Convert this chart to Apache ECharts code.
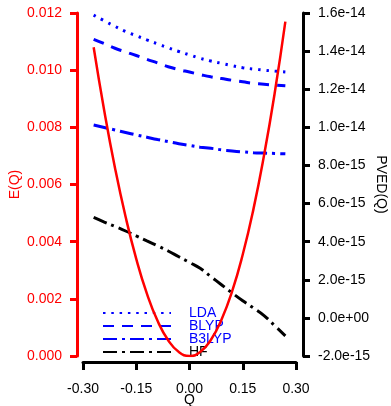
<!DOCTYPE html>
<html>
<head>
<meta charset="utf-8">
<script src="https://cdn.jsdelivr.net/npm/echarts@6/dist/echarts.min.js"></script>
<style>html,body{margin:0;padding:0;background:#fff;}#c{width:391px;height:406px;}</style>
</head>
<body>
<div id="c"></div>
<script>
var qValues = [-0.27,-0.24,-0.21,-0.18,-0.15,-0.12,-0.09,-0.06,-0.03,0,0.03,0.06,0.09,0.12,0.15,0.18,0.21,0.24,0.27];
var energy = [0.01080,0.00857,0.00659,0.00487,0.00340,0.00218,0.00123,0.00055,0.00014,0,0.00014,0.00056,0.00127,0.00226,0.00355,0.00513,0.00702,0.00920,0.01170];
var pvedLDA = [15.89e-15,15.59e-15,15.30e-15,15.03e-15,14.81e-15,14.59e-15,14.38e-15,14.17e-15,13.98e-15,13.80e-15,13.62e-15,13.48e-15,13.36e-15,13.24e-15,13.13e-15,13.06e-15,13.00e-15,12.95e-15,12.90e-15];
var pvedBLYP = [14.62e-15,14.39e-15,14.15e-15,13.96e-15,13.77e-15,13.57e-15,13.38e-15,13.18e-15,13.03e-15,12.90e-15,12.77e-15,12.65e-15,12.56e-15,12.47e-15,12.39e-15,12.31e-15,12.26e-15,12.22e-15,12.18e-15];
var pvedB3LYP = [10.12e-15,9.99e-15,9.86e-15,9.73e-15,9.60e-15,9.48e-15,9.36e-15,9.25e-15,9.14e-15,9.05e-15,8.96e-15,8.90e-15,8.82e-15,8.76e-15,8.71e-15,8.67e-15,8.65e-15,8.63e-15,8.61e-15];
var pvedHF = [5.27e-15,5.03e-15,4.80e-15,4.56e-15,4.30e-15,4.04e-15,3.78e-15,3.51e-15,3.21e-15,2.91e-15,2.60e-15,2.17e-15,1.74e-15,1.31e-15,0.90e-15,0.52e-15,0.12e-15,-0.41e-15,-0.94e-15];
var seriesNames = ['LDA','BLYP','B3LYP','HF'];

function pairs(ys){ return qValues.map(function(q,i){ return [q, ys[i]]; }); }
var FONT = 'Liberation Sans, Arial, Helvetica, sans-serif';
var chart = echarts.init(document.getElementById('c'), null, {renderer:'canvas'});
var dashDot = [14,5,3,5];
chart.setOption({
  animation:false,
  textStyle:{fontFamily:FONT},
  grid:{left:83,right:95,top:13,bottom:50,containLabel:false,outerBoundsMode:'none'},
  legend:{
    orient:'vertical', left:102, top:306, padding:0, itemWidth:68, itemHeight:10, itemGap:-1,
    itemStyle:{opacity:0},
    textStyle:{fontFamily:FONT,fontSize:14,lineHeight:12,padding:[0,0,0,13]},
    data:[
      {name:'LDA',textStyle:{color:'#0000ff'}},
      {name:'BLYP',textStyle:{color:'#0000ff'}},
      {name:'B3LYP',textStyle:{color:'#0000ff'}},
      {name:'HF',textStyle:{color:'#000000'}}
    ]
  },
  xAxis:{
    type:'value', min:-0.3, max:0.3, interval:0.15, offset:6,
    name:'Q', nameLocation:'middle', nameGap:31, nameMoveOverlap:false,
    nameTextStyle:{fontFamily:FONT,fontSize:14,color:'#000'},
    axisLine:{onZero:false,lineStyle:{color:'#000',width:3}},
    axisTick:{length:8,lineStyle:{width:3,color:'#000'}},
    axisLabel:{fontFamily:FONT,fontSize:14,color:'#000',margin:20,formatter:function(v){return (Math.abs(v)<1e-9?0:v).toFixed(2);}},
    splitLine:{show:false}
  },
  yAxis:[
    {
      type:'value', min:0, max:0.012, interval:0.002, position:'left', offset:6,
      name:'E(Q)', nameLocation:'middle', nameGap:55, nameRotate:90, nameMoveOverlap:false,
      nameTextStyle:{fontFamily:FONT,fontSize:14,color:'#ff0000'},
      axisLine:{show:true,onZero:false,lineStyle:{color:'#ff0000',width:3}},
      axisTick:{show:true,length:7,lineStyle:{width:3,color:'#ff0000'}},
      axisLabel:{fontFamily:FONT,fontSize:14,color:'#ff0000',margin:15,formatter:function(v){return v.toFixed(3);}},
      splitLine:{show:false}
    },
    {
      type:'value', min:-2e-15, max:1.6e-14, interval:2e-15, position:'right', offset:7,
      name:'PVED(Q)', nameLocation:'middle', nameGap:71, nameRotate:-90, nameMoveOverlap:false,
      nameTextStyle:{fontFamily:FONT,fontSize:14,color:'#000'},
      axisLine:{show:true,onZero:false,lineStyle:{color:'#000',width:3}},
      axisTick:{show:true,length:7,lineStyle:{width:3,color:'#000'}},
      axisLabel:{fontFamily:FONT,fontSize:14,color:'#000',margin:15,formatter:function(v){
        if(Math.abs(v)<1e-20) v=0;
        return v.toExponential(1).replace(/e([+-])(\d)$/,'e$10$2');
      }},
      splitLine:{show:false}
    }
  ],
  series:[
    {name:'LDA',type:'line',yAxisIndex:1,data:pairs(pvedLDA),smooth:true,symbol:'none',
      lineStyle:{color:'#0000ff',width:3,type:[2.5,5.8],cap:'butt'},itemStyle:{color:'#0000ff'}},
    {name:'BLYP',type:'line',yAxisIndex:1,data:pairs(pvedBLYP),smooth:true,symbol:'none',
      lineStyle:{color:'#0000ff',width:3,type:[11,8]},itemStyle:{color:'#0000ff'}},
    {name:'B3LYP',type:'line',yAxisIndex:1,data:pairs(pvedB3LYP),smooth:true,symbol:'none',
      lineStyle:{color:'#0000ff',width:3,type:dashDot},itemStyle:{color:'#0000ff'}},
    {name:'HF',type:'line',yAxisIndex:1,data:pairs(pvedHF),smooth:true,symbol:'none',
      lineStyle:{color:'#000000',width:3,type:dashDot},itemStyle:{color:'#000000'}},
    {name:'E',type:'line',yAxisIndex:0,data:pairs(energy),smooth:true,symbol:'none',z:5,
      lineStyle:{color:'#ff0000',width:2.5,type:'solid'},itemStyle:{color:'#ff0000'}}
  ]
});
</script>
</body>
</html>
